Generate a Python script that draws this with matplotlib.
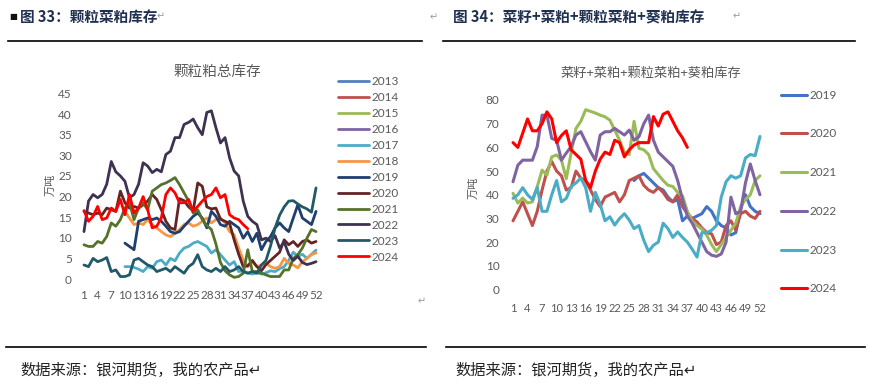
import matplotlib
matplotlib.use("Agg")
import matplotlib.pyplot as plt
import numpy as np

plt.rcParams["font.family"] = ["Noto Sans CJK SC", "DejaVu Sans"]

W, H = 872, 390
GREY = "#595959"
HEAD = "#1f3050"
NUM_FONT = ["Lato", "DejaVu Sans"]
WEEK_TICKS = list(range(1, 53, 3))

# ---- 图33: 颗粒粕总库存 (万吨), weekly ----
pellet_years = ["2013", "2014", "2015", "2016", "2017", "2018",
                "2019", "2020", "2021", "2022", "2023", "2024"]
pellet_colors = ["#4f81bd", "#c0504d", "#9bbb59", "#8064a2", "#4bacc6", "#f79646",
                 "#1f3f6e", "#632523", "#55722a", "#3f3151", "#215968", "#ff0000"]
pellet_start = [1, 1, 1, 1, 10, 10, 10, 1, 1, 1, 1, 1]
pellet_2013 = []
pellet_2014 = []
pellet_2015 = []
pellet_2016 = []
pellet_2017 = [3.0, 3.0, 2.8, 2.4, 1.8, 3.0, 2.6, 4.2, 4.6, 3.4, 5.0, 4.4, 6.3, 7.5,
               7.9, 8.7, 9.1, 8.5, 7.9, 6.3, 7.1, 5.9, 4.6, 3.4, 4.2, 1.8, 2.0, 1.5,
               1.2, 1.5, 1.2, 1.5, 2.0, 1.8, 2.5, 3.0, 4.5, 6.5, 5.5, 6.0, 5.0, 6.0, 7.0]
pellet_2018 = [16.4, 14.8, 13.2, 13.6, 13.2, 14.4, 13.2, 12.4, 11.5, 10.7, 10.3, 11.1,
               12.0, 13.2, 13.6, 12.8, 13.2, 14.0, 14.8, 13.6, 14.4, 14.8, 13.6, 11.5,
               10.7, 7.5, 4.6, 3.0, 4.2, 3.0, 3.4, 3.8, 3.0, 2.6, 3.0, 5.0, 3.8, 3.4,
               2.7, 4.2, 5.0, 5.9, 6.3]
pellet_2019 = [8.7, 7.9, 7.1, 14.0, 14.4, 14.8, 14.4, 14.8, 14.0, 12.8, 11.5, 11.1,
               11.5, 12.8, 14.0, 15.2, 16.0, 14.8, 12.4, 16.4, 15.2, 13.2, 12.8, 14.0,
               13.2, 12.4, 9.9, 11.5, 9.1, 11.1, 7.1, 9.1, 10.3, 12.4, 13.6, 12.4,
               11.5, 14.8, 18.0, 14.8, 14.0, 13.2, 16.4]
pellet_2020 = [16.4, 16.0, 15.6, 16.0, 15.6, 17.2, 16.8, 16.4, 21.3, 18.5, 17.2, 17.6,
               17.2, 18.0, 18.9, 20.5, 19.3, 16.8, 14.0, 12.4, 12.0, 19.5, 19.0, 17.5,
               16.5, 23.3, 22.5, 17.5, 17.0, 17.2, 14.5, 14.0, 13.5, 9.5, 6.0, 3.0,
               3.2, 4.5, 3.0, 2.0, 3.5, 4.5, 5.5, 6.5, 9.5, 8.3, 9.1, 7.9, 9.1, 9.5,
               8.7, 9.1]
pellet_2021 = [8.3, 7.9, 7.9, 9.1, 8.7, 10.3, 13.6, 12.8, 14.4, 17.2, 18.5, 14.4,
               17.2, 18.5, 16.8, 21.3, 22.1, 22.9, 23.3, 23.9, 24.6, 22.9, 20.9, 18.9,
               16.0, 16.8, 14.4, 13.0, 12.0, 8.5, 4.0, 2.0, 1.0, 0.4, 0.6, 1.4, 7.1,
               1.8, 1.8, 1.4, 1.0, 0.6, 0.6, 0.6, 2.2, 2.2, 5.0, 5.9, 7.5, 9.9, 12.0,
               11.5]
pellet_2022 = [11.5, 18.9, 20.5, 19.7, 20.5, 23.0, 28.5, 26.0, 25.0, 23.7, 19.7, 20.5,
               23.0, 28.2, 27.4, 25.8, 26.6, 26.0, 30.2, 31.0, 34.3, 34.3, 37.5, 38.0,
               38.8, 36.7, 35.0, 40.4, 40.8, 36.7, 33.0, 34.3, 29.4, 26.2, 25.0, 18.9,
               15.2, 14.0, 13.2, 9.5, 9.9, 9.1, 10.5, 7.5, 9.0, 6.0, 4.5, 5.5, 4.0,
               3.5, 3.8, 4.2]
pellet_2023 = [3.4, 3.0, 5.0, 4.2, 4.6, 5.2, 1.8, 2.2, 0.6, 0.6, 1.0, 4.6, 5.0, 4.2,
               3.4, 3.0, 1.8, 2.2, 2.6, 1.8, 3.0, 2.2, 1.4, 3.0, 3.8, 5.9, 3.0, 2.2,
               1.8, 2.6, 1.8, 3.0, 1.8, 2.2, 3.0, 1.8, 1.4, 1.8, 1.4, 3.4, 4.5, 8.0,
               12.4, 15.5, 17.5, 18.9, 19.0, 18.2, 17.5, 17.0, 16.2, 22.1]
pellet_2024 = [16.6, 14.0, 15.2, 17.6, 14.4, 14.8, 17.2, 16.4, 19.3, 15.6, 20.5, 16.0,
               17.2, 20.0, 16.8, 12.4, 12.8, 14.8, 20.5, 22.1, 20.9, 18.5, 18.5, 19.3,
               16.4, 17.6, 18.9, 20.0, 20.5, 22.1, 19.7, 20.5, 15.6, 14.8, 14.4, 13.2,
               12.2]
pellet_values = [pellet_2013, pellet_2014, pellet_2015, pellet_2016, pellet_2017,
                 pellet_2018, pellet_2019, pellet_2020, pellet_2021, pellet_2022,
                 pellet_2023, pellet_2024]

# ---- 图34: 菜籽+菜粕+颗粒菜粕+葵粕库存 (万吨), weekly ----
total_years = ["2019", "2020", "2021", "2022", "2023", "2024"]
total_colors = ["#4472c4", "#c0504d", "#9bbb59", "#8064a2", "#4bacc6", "#ff0000"]
total_start = [26, 1, 1, 1, 1, 1]
total_2019 = [46, 48, 49, 47, 45, 43, 42, 39, 37, 38, 29, 31, 30, 31, 32, 35, 33, 29,
              27, 26, 23, 24, 34, 40, 35, 33, 32]
total_2020 = [29, 33, 37, 32, 27, 33, 42, 50, 54, 50, 48, 42, 43, 50, 47, 46, 42, 38,
              35, 39, 40, 41, 37, 40, 46, 47, 48, 44, 42, 41, 43, 41, 38, 37, 40, 35,
              32, 30, 28.5, 26, 24, 23.5, 19, 20, 27, 29, 25, 32, 33, 31, 30, 33]
total_2021 = [40.6, 36.5, 38.6, 36.5, 37, 43.4, 50.4, 48.3, 56, 56.8, 54.6, 46.8, 57.6,
              68, 71, 75.9, 75.2, 74.5, 73.6, 72.9, 71.5, 67.3, 63, 58, 57, 71, 59.6,
              59, 57, 51, 48.5, 46, 44, 43.5, 41, 39.5, 33, 29, 27, 25.5, 23, 19, 16,
              19, 22, 25, 28, 35, 38, 40, 46, 48]
total_2022 = [45.5, 52.5, 54.6, 54.6, 54.6, 60.3, 73.6, 73.6, 63.8, 63, 54.6, 57.6,
              60.3, 65.2, 66.6, 62.4, 58.2, 54.6, 65.2, 66.6, 66.6, 68, 66.6, 65.2,
              67.3, 63, 64.5, 70, 73.6, 63, 58, 56, 54, 52, 46, 38, 31, 28, 24, 20, 16,
              14.5, 14, 15, 20, 39, 32, 33, 45, 53, 46, 40]
total_2023 = [38.5, 40, 43, 40, 38, 43, 33, 33, 40, 46, 37, 38.5, 43.5, 45, 47, 43, 33,
              41, 36, 29, 30.7, 27.2, 30, 32, 29.3, 25.7, 27, 20.8, 16, 18.7, 20, 28,
              25.7, 22, 24.3, 22, 20, 17, 13.7, 24, 24, 25, 27, 39, 45.5, 48, 47, 48,
              55.5, 57, 56.5, 64.6]
total_2024 = [62, 60, 66, 72, 67, 67, 70, 75, 72, 62, 65, 67, 59, 57, 55, 46, 43, 50,
              55, 58, 57, 63, 62, 56, 59, 61, 62, 62, 62, 73, 69, 74, 75, 71, 67, 64, 60]
total_values = [total_2019, total_2020, total_2021, total_2022, total_2023, total_2024]


def fx(x):
    return x / W


def fy(y):
    return 1 - y / H


def px_axes(fig, x0, y0, x1, y1):
    return fig.add_axes([fx(x0), fy(y1), (x1 - x0) / W, (y1 - y0) / H])


def style_axes(ax, ymax, ystep, xsize, ypad, xpad):
    ax.set_xlim(0.5, 52.5)
    ax.set_ylim(0, ymax)
    ax.set_xticks(WEEK_TICKS)
    ax.set_yticks(np.arange(0, ymax + 1, ystep))
    for s in ax.spines.values():
        s.set_visible(False)
    ax.tick_params(length=0, colors=GREY)
    ax.tick_params(axis="y", labelsize=8.5, pad=ypad)
    ax.tick_params(axis="x", labelsize=xsize, pad=xpad)
    for lab in ax.get_xticklabels() + ax.get_yticklabels():
        lab.set_family(NUM_FONT)
    ax.patch.set_alpha(0)


def draw_series(ax, years, colors, starts, values, lw):
    for year, color, start, vals in zip(years, colors, starts, values):
        x = np.arange(start, start + len(vals))
        ax.plot(x, vals, color=color, lw=lw, label=year, clip_on=False,
                solid_joinstyle="round", solid_capstyle="round")


fig = plt.figure(figsize=(W / 100, H / 100), dpi=100)

# left chart
ax1 = px_axes(fig, 81.7, 93.5, 318.3, 279)
draw_series(ax1, pellet_years, pellet_colors, pellet_start, pellet_values, 2.0)
style_axes(ax1, 45, 5, 8.5, 7, 8)
ax1.legend(loc="upper left", bbox_to_anchor=(fx(338), fy(76)),
           bbox_transform=fig.transFigure, frameon=False,
           handlelength=2.6, handletextpad=0.25, labelspacing=0.42,
           borderpad=0, borderaxespad=0, labelcolor=GREY,
           prop={"family": NUM_FONT, "size": 8.5})
fig.text(fx(217), fy(72), "颗粒粕总库存", ha="center", va="center",
         fontsize=10.5, color=GREY)
fig.text(fx(51), fy(185), "万吨", ha="center", va="center", rotation=90,
         fontsize=8, color=GREY)

# right chart
ax2 = px_axes(fig, 510.6, 100, 762.4, 289.5)
draw_series(ax2, total_years, total_colors, total_start, total_values, 2.2)
style_axes(ax2, 80, 10, 8, 8, 10)
ax2.legend(loc="upper left", bbox_to_anchor=(fx(781), fy(89.7)),
           bbox_transform=fig.transFigure, frameon=False,
           handlelength=2.2, handletextpad=0.2, labelspacing=2.35,
           borderpad=0, borderaxespad=0, labelcolor=GREY,
           prop={"family": NUM_FONT, "size": 8.5})
fig.text(fx(651), fy(73), "菜籽+菜粕+颗粒菜粕+葵粕库存", ha="center", va="center",
         fontsize=9.5, color=GREY)
fig.text(fx(474), fy(188), "万吨", ha="center", va="center", rotation=90,
         fontsize=8, color=GREY)

# report headers, rules and source notes
fig.text(fx(9), fy(17), "■", ha="left", va="center", fontsize=6, color="#111111",
         family=["DejaVu Sans"])
fig.text(fx(20), fy(17), "图 33：颗粒菜粕库存", ha="left", va="center",
         fontsize=10.5, fontweight="bold", color=HEAD)
fig.text(fx(453), fy(17), "图 34：菜籽+菜粕+颗粒菜粕+葵粕库存", ha="left", va="center",
         fontsize=10.5, fontweight="bold", color=HEAD)
for x, y in [(157, 16), (430, 17), (733, 16), (418, 301)]:
    fig.text(fx(x), fy(y), "↵", ha="left", va="center", fontsize=7,
             color="#9a9a9a", family=["DejaVu Sans"])

for x0, x1, y in [(8, 422, 41), (443, 855, 41), (6, 426, 347), (446, 865, 347)]:
    fig.add_artist(plt.Line2D([fx(x0), fx(x1)], [fy(y), fy(y)], color="black",
                              lw=1.2, transform=fig.transFigure))

for x in (20, 455):
    fig.text(fx(x), fy(370), "数据来源：银河期货，我的农产品↵", ha="left", va="center",
             fontsize=11, color="#222222")

fig.savefig("out.png", dpi=100)
